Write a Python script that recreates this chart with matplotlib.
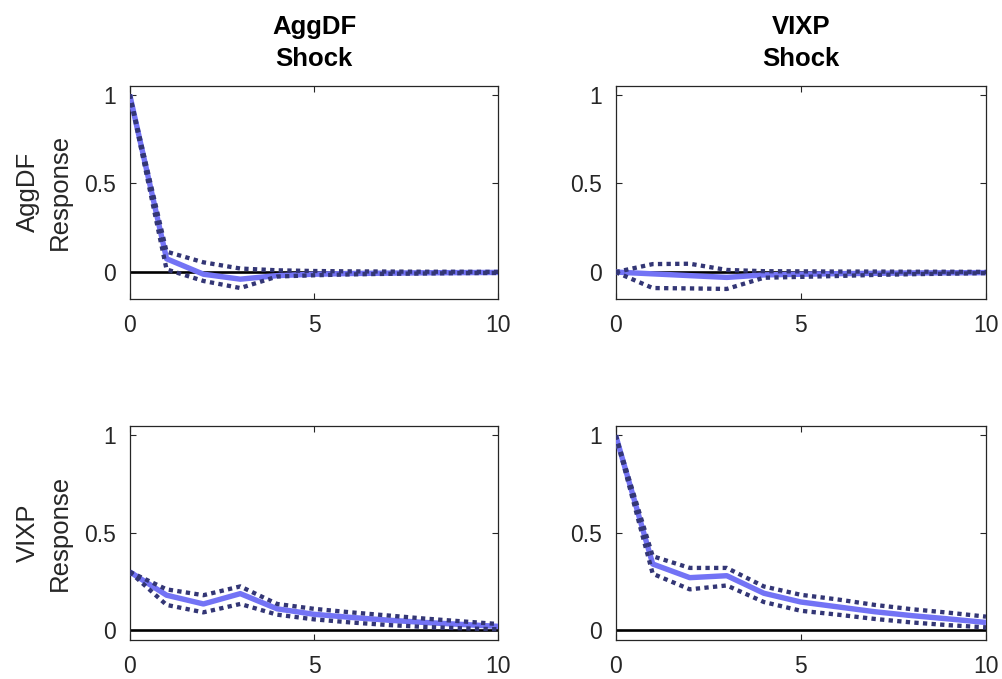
import matplotlib
matplotlib.use("Agg")
import matplotlib.pyplot as plt
import numpy as np

plt.rcParams['font.family'] = ['Liberation Sans', 'DejaVu Sans']

horizon = list(range(11))
shock_names = ["AggDF", "VIXP"]
response_names = ["AggDF", "VIXP"]

# AggDF shock -> AggDF response
med_aa = [1.0, 0.075, -0.012, -0.04, -0.02, -0.012, -0.008, -0.006, -0.004, -0.003, -0.002]
up_aa = [1.0, 0.115, 0.055, 0.02, 0.01, 0.006, 0.004, 0.003, 0.002, 0.002, 0.001]
lo_aa = [1.0, 0.015, -0.05, -0.09, -0.025, -0.018, -0.013, -0.01, -0.008, -0.006, -0.005]

# VIXP shock -> AggDF response
med_va = [0.0, -0.01, -0.02, -0.03, -0.016, -0.012, -0.009, -0.007, -0.005, -0.004, -0.003]
up_va = [0.0, 0.045, 0.047, 0.012, 0.005, 0.004, 0.003, 0.003, 0.002, 0.002, 0.001]
lo_va = [0.0, -0.09, -0.092, -0.095, -0.032, -0.027, -0.022, -0.016, -0.012, -0.009, -0.006]

# AggDF shock -> VIXP response
med_av = [0.30, 0.18, 0.135, 0.188, 0.11, 0.082, 0.066, 0.052, 0.04, 0.03, 0.02]
up_av = [0.30, 0.21, 0.18, 0.225, 0.135, 0.11, 0.092, 0.076, 0.06, 0.046, 0.032]
lo_av = [0.30, 0.13, 0.092, 0.135, 0.08, 0.056, 0.04, 0.027, 0.017, 0.01, 0.005]

# VIXP shock -> VIXP response
med_vv = [1.0, 0.34, 0.27, 0.28, 0.19, 0.145, 0.12, 0.095, 0.075, 0.058, 0.04]
up_vv = [1.0, 0.38, 0.32, 0.32, 0.225, 0.182, 0.158, 0.13, 0.108, 0.09, 0.07]
lo_vv = [1.0, 0.29, 0.21, 0.23, 0.145, 0.10, 0.08, 0.058, 0.04, 0.026, 0.015]

panels = {
    (0, 0): (med_aa, up_aa, lo_aa),
    (0, 1): (med_va, up_va, lo_va),
    (1, 0): (med_av, up_av, lo_av),
    (1, 1): (med_vv, up_vv, lo_vv),
}
ylims = {0: (-0.15, 1.05), 1: (-0.05, 1.05)}

fig = plt.figure(figsize=(10.02, 6.79), dpi=100)
W, H = 1002, 679
lefts = [129.7, 615.7]
widths = [368.6, 370.3]
tops = [85.7, 425.7]
heights = [213.0, 214.3]

med_color = (0.45, 0.45, 0.96)
band_color = (0.20, 0.21, 0.46)
spine_color = '#262626'

for (r, c), (med, up, lo) in panels.items():
    ax = fig.add_axes([lefts[c] / W, 1 - (tops[r] + heights[r]) / H,
                       widths[c] / W, heights[r] / H])
    ax.axhline(0, color='black', lw=1.9, zorder=2)
    ax.plot(horizon, med, color=med_color, lw=3.9, zorder=3, solid_capstyle='butt')
    for b in (up, lo):
        ax.plot(horizon, b, color=band_color, lw=3.1, linestyle=(0, (1, 1.0)),
                dash_capstyle='butt', zorder=4)
    ax.set_xlim(0, 10)
    ax.set_ylim(*ylims[r])
    ax.set_xticks([0, 5, 10])
    ax.set_yticks([0, 0.5, 1])
    ax.set_yticklabels(['0', '0.5', '1'])
    ax.tick_params(direction='in', length=4, width=0.8, top=True, right=True,
                   labelsize=16.5, colors=spine_color, pad=10)
    ax.tick_params(axis='x', pad=11)
    for s in ax.spines.values():
        s.set_color(spine_color)
        s.set_linewidth(0.9)
    if r == 0:
        ax.set_title(f"{shock_names[c]}\nShock", fontsize=18.5, fontweight='bold',
                     pad=14, linespacing=1.42)
    if c == 0:
        ax.set_ylabel(f"{response_names[r]}\nResponse", fontsize=18.5,
                      color=spine_color, labelpad=9, linespacing=1.42)

fig.savefig("out.png", dpi=100)
